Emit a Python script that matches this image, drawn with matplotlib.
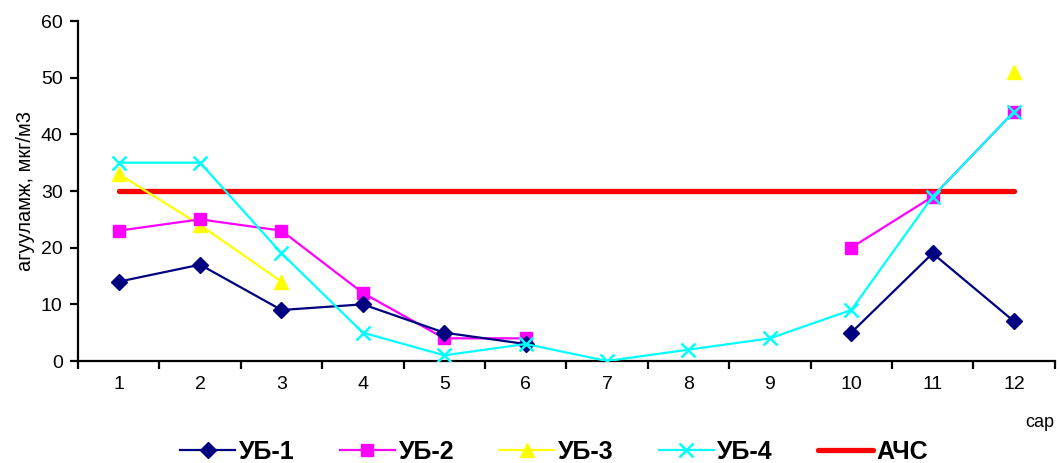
import numpy as np
import matplotlib
matplotlib.use("Agg")
import matplotlib.pyplot as plt
from matplotlib.ticker import FixedLocator

plt.rcParams['font.family'] = ['Liberation Sans', 'DejaVu Sans']

months = [1, 2, 3, 4, 5, 6, 7, 8, 9, 10, 11, 12]
month_labels = ["1", "2", "3", "4", "5", "6", "7", "8", "9", "10", "11", "12"]
nan = np.nan
ub1 = [14, 17, 9, 10, 5, 3, nan, nan, nan, 5, 19, 7]
ub2 = [23, 25, 23, 12, 4, 4, nan, nan, nan, 20, 29, 44]
ub3 = [33, 24, 14, nan, nan, nan, nan, nan, nan, nan, nan, 51]
ub4 = [35, 35, 19, 5, 1, 3, 0, 2, 4, 9, 29, 44]
achs = [30] * 12

fig = plt.figure(figsize=(10.6, 4.63), dpi=100)
ax = fig.add_axes([0.0736, 0.2203, 0.9214, 0.7343])

ax.plot(months, ub1, color='#000080', lw=1.6, marker='D', ms=8, label='УБ-1', zorder=5)
ax.plot(months, ub2, color='#FF00FF', lw=1.6, marker='s', ms=9, label='УБ-2', zorder=4)
ax.plot(months, ub3, color='#FFFF00', lw=1.6, marker='^', ms=10, label='УБ-3', zorder=3)
ax.plot(months, ub4, color='#00FFFF', lw=1.6, marker='x', ms=10, mew=1.8, label='УБ-4', zorder=6)
ax.plot(months, achs, color='#FF0000', lw=3.8, label='АЧС', zorder=2, solid_capstyle='round')

ax.set_xlim(0.5, 12.5)
ax.set_ylim(0, 60)
ax.set_yticks(range(0, 61, 10))
ax.set_xticks(months)
ax.set_xticklabels(month_labels)
ax.xaxis.set_minor_locator(FixedLocator(np.arange(0.5, 12.6, 1)))
ax.tick_params(axis='x', which='major', length=0, labelsize=14, pad=11)
ax.tick_params(axis='x', which='minor', length=6, width=1.6, direction='out')
ax.tick_params(axis='y', length=6, width=1.6, direction='out', labelsize=14, pad=5)
for s in ['top', 'right']:
    ax.spines[s].set_visible(False)
for s in ['left', 'bottom']:
    ax.spines[s].set_linewidth(1.6)

ax.set_ylabel('агууламж, мкг/м3', fontsize=14.5, labelpad=4)
fig.text(0.981, 0.088, 'сар', fontsize=13, ha='center', va='center')

leg = fig.legend(loc='center', bbox_to_anchor=(0.523, 0.024), ncol=5, frameon=False,
                 prop={'weight': 'bold', 'size': 18}, handlelength=2.2,
                 columnspacing=1.8, handletextpad=0.15, borderaxespad=0,
                 borderpad=0)

fig.savefig('out.png', dpi=100)
